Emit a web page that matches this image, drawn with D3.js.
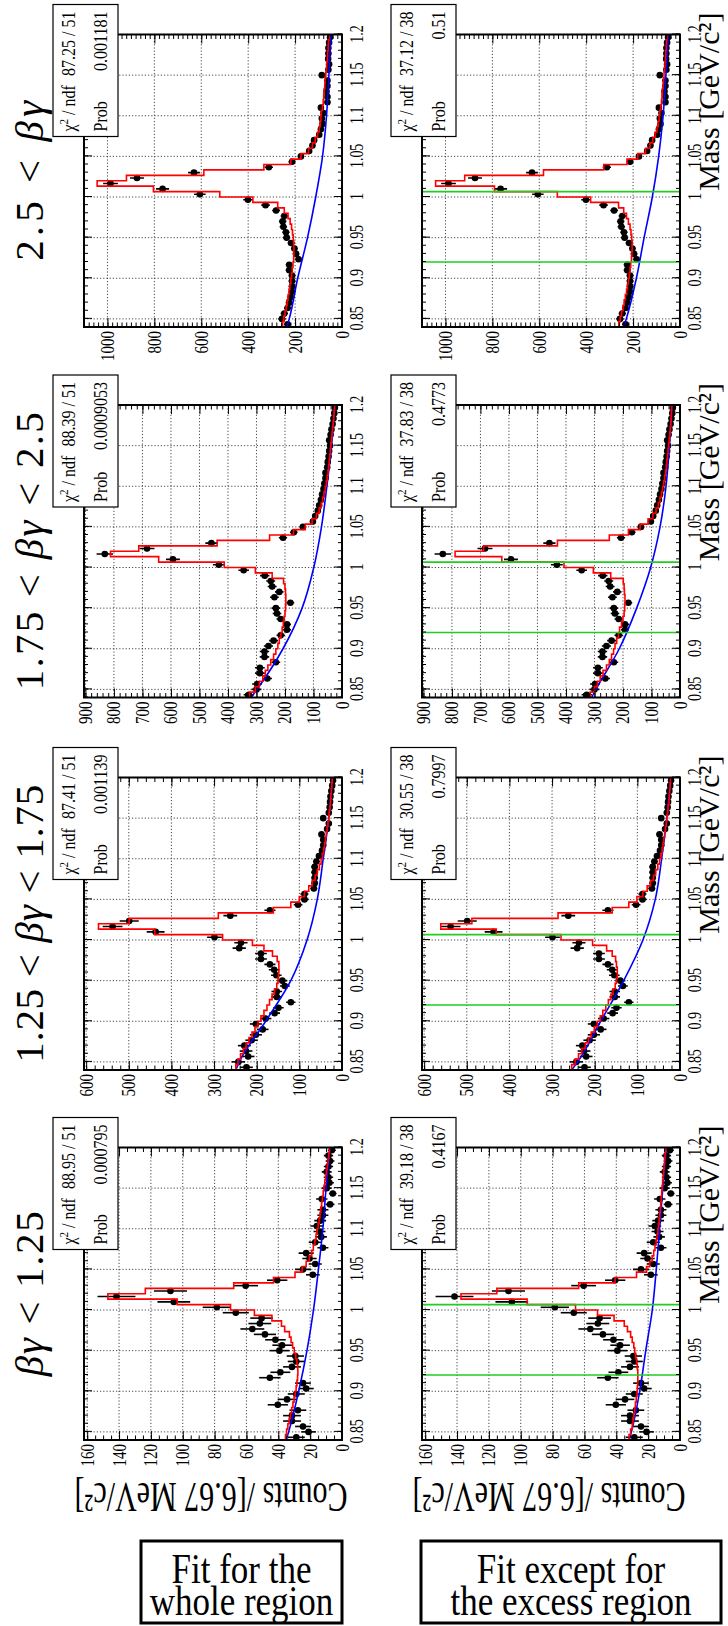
<!DOCTYPE html>
<html><head><meta charset="utf-8">
<script src="https://cdn.jsdelivr.net/npm/d3@7"></script>
<style>body{margin:0;background:#fff}svg{display:block}</style>
</head><body>
<svg id="c" width="728" height="1626"></svg>
<script>
// ---------------- data ----------------
const massLo = 0.84, massHi = 1.2, nBins = 54;
const massTicks = [0.85, 0.9, 0.95, 1.0, 1.05, 1.1, 1.15, 1.2];
const massTickLabels = ["0.85", "0.9", "0.95", "1", "1.05", "1.1", "1.15", "1.2"];
const excessEdges = [0.92, 1.00667];
const bgTitles = ["βγ < 1.25", "1.25 < βγ < 1.75", "1.75 < βγ < 2.5", "2.5 < βγ"];
const yMaxes = [162, 605, 905, 1100];
const countTicksLt125 = [0, 20, 40, 60, 80, 100, 120, 140, 160];
const countTicks125to175 = [0, 100, 200, 300, 400, 500, 600];
const countTicks175to25 = [0, 100, 200, 300, 400, 500, 600, 700, 800, 900];
const countTicksGt25 = [0, 200, 400, 600, 800, 1000];
const minorCountStep = [5, 20, 20, 20];

const dataLt125 = [28.7,21.0,24.5,31.4,31.4,27.7,40.3,34.5,28.7,22.5,24.5,45.3,38.7,31.4,28.7,29.3,39.3,37.6,41.8,48.4,56.3,51.6,50.5,66.7,78.6,105.6,141.6,107.7,60.5,40.7,18.3,24.5,16.8,20.4,22.5,12,16.8,13.1,14.1,15.8,13.7,12,12,7.5,12.7,5.8,9.6,7.9,8.5,9.6,8.5,7.5,8.5,6.4];
const data125to175 = [224,243,220,225,229,212,202,186,202,179,158,149,120,153,153,134,140,154,159,169,190,190,241,237,299,437,538,499,262,169,103,88,88,66,64,64,64,64,60,54,47,44,44,48,35,31,44,31,29,28,27,25,23,21];
const data175to25 = [327,300,298,262,288,288,232,272,272,258,240,215,193,193,215,228,232,181,237,220,245,250,271,345,432,593,832,684,458,207,169,137,102,94,85,80,74,70,65,62,58,58,52,50,47,45,42,45,40,37,33,30,27,25];
const dataGt25 = [232,256,246,232,225,218,213,213,213,213,225,225,185,196,203,217,236,239,250,253,246,281,326,401,606,765,987,874,631,312,213,175,140,126,119,97,90,83,86,79,90,62,62,66,62,62,86,58,55,59,58,58,55,51];

const fitWholeLt125 = [35.5,34.8,34,33.2,32.4,31.6,30.8,30.1,29.4,28.8,28.3,27.9,27.7,27.8,28.3,29,30,31,32,33,36,38,44,55,70,103.5,147,123.5,68,43,29.5,25,22.5,20.5,19,18,17,16.3,15.6,15,14.4,13.8,13.3,12.8,12.3,11.8,11.3,10.8,10.3,9.8,9.3,8.8,8.3,7.9];
const fitWhole125to175 = [249,244,238,231,225,218,211,204,197,190,183,176,170,164,158,153,150,149,148,148,152,163,183,210,280,439,571,499,290,161,120,100,88,78,70,63,58,53,49,46,43,41,39,37,35,33,31,30,28,27,26,25,24,23];
const fitWhole175to25 = [324,304,290,278,269,260,250,240,232,225,220,214,210,206,203,200,198,197,197,198,200,205,245,304,413,643,812,713,438,254,170,129,105,90,80,73,68,63,59,55,52,49,47,45,43,41,39,37,35,33,31,29,28,26];
const fitWholeGt25 = [253,248,243,238,234,230,226,222,218,215,212,209,206,205,205,206,208,211,215,221,230,246,274,380,521,804,1044,919,589,333,218,175,143,126,114,104,97,93,90,88,83,80,78,76,73,72,69,66,65,62,61,59,58,55];

const fitExcessLt125 = [32,31,30,29.5,29,28.5,28,27.5,27,26.8,26.5,26.5,26.5,26.8,27.2,27.8,28.4,29,30,31,33,35,41.4,51.8,65.6,96,137.5,115,63.6,40.8,27.3,21,19,17.5,16.5,15.7,15,14.4,13.9,13.5,13.1,12.7,12.4,12.1,11.8,11.5,11.2,10.9,10.6,10.3,10,9.7,9.4,9.1];
const fitExcess125to175 = [254,246,238,230,222,215,208,201,194,187,181,174,168,162,157,152,149,147,147,149,151,159,172,205,279,431,561,488,286,159,120,101,87,77,69,62,57,52,48,45,42,40,38,36,34,32,31,29,28,26,25,24,23,22];
const fitExcess175to25 = [315,300,290,280,270,258,248,240,233,228,222,216,212,205,200,196,194,193,193,195,196,199,243,304,407,625,789,689,430,248,181,140,112,95,84,76,70,65,61,57,54,51,48,46,44,42,40,38,36,34,32,31,30,29];
const fitExcessGt25 = [261,255,249,243,238,233,228,224,220,216,213,210,207,205,204,204,206,209,213,220,228,240,262,381,523,791,1042,918,582,325,226,180,147,128,116,106,98,93,89,86,82,79,77,75,72,70,68,66,64,62,61,59,58,56];

const bkgMass = [0.84, 0.85, 0.9, 0.95, 1.0, 1.05, 1.1, 1.15, 1.2];
const bkgWholeLt125 = [35, 33.5, 27.2, 22, 17.9, 14.8, 12, 10, 7.5];
const bkgWhole125to175 = [249, 241, 179, 120, 82, 58, 44, 31, 23];
const bkgWhole175to25 = [319, 298, 207, 140, 99, 72, 53, 37, 26];
const bkgWholeGt25 = [235, 225, 189, 147, 112, 83, 66, 56, 48];
const bkgExcessLt125 = [31.9, 30.5, 25.3, 21.5, 17.4, 14.9, 12.8, 10.8, 8.7];
const bkgExcess125to175 = [254, 240, 186, 132, 87, 58, 43, 31, 22];
const bkgExcess175to25 = [310, 295, 213, 152, 103, 70, 49, 37, 29];
const bkgExcessGt25 = [240, 229, 186, 153, 118, 91, 72, 60, 50];

const chiWhole = ["88.95 / 51", "87.41 / 51", "88.39 / 51", "87.25 / 51"];
const probWhole = ["0.000795", "0.001139", "0.0009053", "0.001181"];
const chiExcess = ["39.18 / 38", "30.55 / 38", "37.83 / 38", "37.12 / 38"];
const probExcess = ["0.4167", "0.7997", "0.4773", "0.51"];
const rowLabels = [["Fit for the", "whole region"], ["Fit except for", "the excess region"]];

// ---------------- layout ----------------
const countData = [dataLt125, data125to175, data175to25, dataGt25];
const fitData = [[fitWholeLt125, fitWhole125to175, fitWhole175to25, fitWholeGt25],
                 [fitExcessLt125, fitExcess125to175, fitExcess175to25, fitExcessGt25]];
const bkgData = [[bkgWholeLt125, bkgWhole125to175, bkgWhole175to25, bkgWholeGt25],
                 [bkgExcessLt125, bkgExcess125to175, bkgExcess175to25, bkgExcessGt25]];
const countTicks = [countTicksLt125, countTicks125to175, countTicks175to25, countTicksGt25];
const chiText = [chiWhole, chiExcess], probText = [probWhole, probExcess];

const FONT = "'Liberation Serif','Times New Roman',serif";
const binW = (massHi - massLo) / nBins;
const binCenters = d3.range(nBins).map(i => massLo + (i + 0.5) * binW);
const binEdges = d3.range(nBins + 1).map(i => massLo + i * binW);
const massMinor = d3.range(84, 121).map(v => v / 100);

const colX = [186, 556, 928.5, 1299], colW = 292.5;
const rowY = [84, 422], rowH = 258;

const svg = d3.select("#c");
svg.append("rect").attr("width", 728).attr("height", 1626).attr("fill", "#fff");
const root = svg.append("g").attr("transform", "translate(0,1626) rotate(-90)");

function sText(parent, X, Y, str, size, anchor, sy) {
  return parent.append("text")
    .attr("transform", `translate(${X},${Y}) scale(1,${sy || 1})`)
    .attr("text-anchor", anchor || "start")
    .style("font-family", FONT).style("font-size", size + "px")
    .text(str);
}

function drawPanel(c, r) {
  const X0 = colX[c], Y0 = rowY[r];
  const x = d3.scaleLinear().domain([massLo, massHi]).range([X0, X0 + colW]);
  const y = d3.scaleLinear().domain([0, yMaxes[c]]).range([Y0 + rowH, Y0]);
  const g = root.append("g");
  const clipId = `clip${c}_${r}`;
  g.append("clipPath").attr("id", clipId).append("rect")
    .attr("x", X0).attr("y", Y0).attr("width", colW).attr("height", rowH);

  // grid
  const grid = g.append("g").attr("stroke", "#000").attr("stroke-width", 0.9)
    .attr("stroke-dasharray", "1.2,2").attr("opacity", 0.8);
  grid.selectAll(".gx").data(massTicks.filter(t => t < massHi - 1e-6)).join("line")
    .attr("x1", d => x(d)).attr("x2", d => x(d)).attr("y1", Y0).attr("y2", Y0 + rowH);
  grid.selectAll(".gy").data(countTicks[c].filter(t => t > 0 && t < yMaxes[c])).join("line")
    .attr("y1", d => y(d)).attr("y2", d => y(d)).attr("x1", X0).attr("x2", X0 + colW);

  const pg = g.append("g").attr("clip-path", `url(#${clipId})`);
  const vals = countData[c];
  // data points
  const dg = pg.append("g").attr("stroke", "#000").attr("stroke-width", 1.6);
  dg.selectAll(".ey").data(vals).join("line")
    .attr("x1", (d, i) => x(binCenters[i])).attr("x2", (d, i) => x(binCenters[i]))
    .attr("y1", d => y(d - Math.sqrt(d))).attr("y2", d => y(d + Math.sqrt(d)));
  dg.selectAll(".ex").data(vals).join("line")
    .attr("x1", (d, i) => x(binEdges[i])).attr("x2", (d, i) => x(binEdges[i + 1]))
    .attr("y1", d => y(d)).attr("y2", d => y(d));
  pg.append("g").selectAll("circle").data(vals).join("circle")
    .attr("cx", (d, i) => x(binCenters[i])).attr("cy", d => y(d)).attr("r", 3.3).attr("fill", "#000");

  // background curve
  const bk = bkgData[r][c];
  pg.append("path").datum(bkgMass.map((m, i) => [m, bk[i]]))
    .attr("d", d3.line().x(d => x(d[0])).y(d => y(d[1])).curve(d3.curveMonotoneX))
    .attr("fill", "none").attr("stroke", "#0000ff").attr("stroke-width", 1.6);
  // total fit step
  const ft = fitData[r][c];
  pg.append("path").datum(binEdges.map((e, i) => [e, ft[Math.min(i, nBins - 1)]]))
    .attr("d", d3.line().x(d => x(d[0])).y(d => y(d[1])).curve(d3.curveStepAfter))
    .attr("fill", "none").attr("stroke", "#ff0000").attr("stroke-width", 1.6);
  if (r === 1) {
    pg.selectAll(".green").data(excessEdges).join("line")
      .attr("x1", d => x(d)).attr("x2", d => x(d)).attr("y1", Y0).attr("y2", Y0 + rowH)
      .attr("stroke", "#22cc22").attr("stroke-width", 1.6);
  }

  // axes
  const fixAxis = sel => { sel.select(".domain").remove(); sel.selectAll("line").attr("stroke", "#000").attr("stroke-width", 1); };
  const axB = g.append("g").attr("transform", `translate(0,${Y0 + rowH})`)
    .call(d3.axisBottom(x).tickValues(massTicks).tickSize(-8).tickFormat((d, i) => massTickLabels[i])).call(fixAxis);
  axB.selectAll("text").attr("y", null).attr("dy", null).attr("fill", "#000")
    .attr("transform", "translate(0,21) scale(1,1.32)")
    .style("font-family", FONT).style("font-size", "14px");
  g.append("g").attr("transform", `translate(0,${Y0 + rowH})`)
    .call(d3.axisBottom(x).tickValues(massMinor).tickSize(-4).tickFormat("")).call(fixAxis);
  g.append("g").attr("transform", `translate(0,${Y0})`)
    .call(d3.axisTop(x).tickValues(massTicks).tickSize(-8).tickFormat("")).call(fixAxis);
  g.append("g").attr("transform", `translate(0,${Y0})`)
    .call(d3.axisTop(x).tickValues(massMinor).tickSize(-4).tickFormat("")).call(fixAxis);

  const minors = d3.range(0, yMaxes[c] + 0.001, minorCountStep[c]);
  const axL = g.append("g").attr("transform", `translate(${X0},0)`)
    .call(d3.axisLeft(y).tickValues(countTicks[c]).tickSize(-9).tickFormat(d3.format("d"))).call(fixAxis);
  axL.selectAll("text").attr("x", null).attr("dy", null).attr("fill", "#000")
    .attr("transform", "translate(-4,6) scale(1,1.22)")
    .style("font-family", FONT).style("font-size", "15px");
  g.append("g").attr("transform", `translate(${X0},0)`)
    .call(d3.axisLeft(y).tickValues(minors).tickSize(-4.5).tickFormat("")).call(fixAxis);
  g.append("g").attr("transform", `translate(${X0 + colW},0)`)
    .call(d3.axisRight(y).tickValues(countTicks[c]).tickSize(-9).tickFormat("")).call(fixAxis);
  g.append("g").attr("transform", `translate(${X0 + colW},0)`)
    .call(d3.axisRight(y).tickValues(minors).tickSize(-4.5).tickFormat("")).call(fixAxis);

  // frame
  g.append("rect").attr("x", X0).attr("y", Y0).attr("width", colW).attr("height", rowH)
    .attr("fill", "none").attr("stroke", "#000").attr("stroke-width", 2);

  // stats box
  const bx = X0 + colW - 102, by = Y0 - 31;
  g.append("rect").attr("x", bx).attr("y", by).attr("width", 132).attr("height", 65)
    .attr("fill", "#fff").attr("stroke", "#000").attr("stroke-width", 1.2);
  const t1 = g.append("text").attr("transform", `translate(${bx + 5},${by + 22}) scale(1,1.15)`)
    .style("font-family", FONT).style("font-size", "16px");
  t1.append("tspan").text("χ");
  t1.append("tspan").attr("dy", -6).style("font-size", "11px").text("2");
  t1.append("tspan").attr("dy", 6).text(" / ndf");
  sText(g, bx + 125, by + 22, chiText[r][c], 16, "end", 1.15);
  sText(g, bx + 5, by + 54, "Prob", 16, "start", 1.15);
  sText(g, bx + 125, by + 54, probText[r][c], 16, "end", 1.15);

  // titles
  if (r === 0) {
    const tt = g.append("text").attr("x", X0 + colW / 2).attr("y", 43).attr("text-anchor", "middle")
      .style("font-family", FONT).style("font-size", "41px")
      .attr("textLength", [165, 278, 278, 160][c]).attr("lengthAdjust", "spacing");
    for (const ch of bgTitles[c]) {
      tt.append("tspan").style("font-style", (ch === "β" || ch === "γ") ? "italic" : "normal").text(ch);
    }
  } else {
    sText(g, X0 + colW + 22, Y0 + rowH + 39, "Mass [GeV/c²]", 30, "end", 1);
  }
  if (c === 0) {
    g.append("text").attr("transform", `translate(143,${Y0 + rowH / 2 - 2}) rotate(-90) scale(1,1.38)`)
      .attr("text-anchor", "middle").style("font-family", FONT).style("font-size", "30px")
      .text("Counts /[6.67 MeV/c²]");
  }
}

for (let c = 0; c < 4; c++) for (let r = 0; r < 2; r++) drawPanel(c, r);

// bottom labels (upright)
const boxes = [{x: 141, w: 201}, {x: 421, w: 300}];
boxes.forEach((b, i) => {
  svg.append("rect").attr("x", b.x).attr("y", 1541).attr("width", b.w).attr("height", 82)
    .attr("fill", "#fff").attr("stroke", "#000").attr("stroke-width", 3);
  rowLabels[i].forEach((s, k) => {
    sText(svg, b.x + b.w / 2, [1583, 1615][k], s, 35, "middle", 1.22);
  });
});
</script>
</body></html>
